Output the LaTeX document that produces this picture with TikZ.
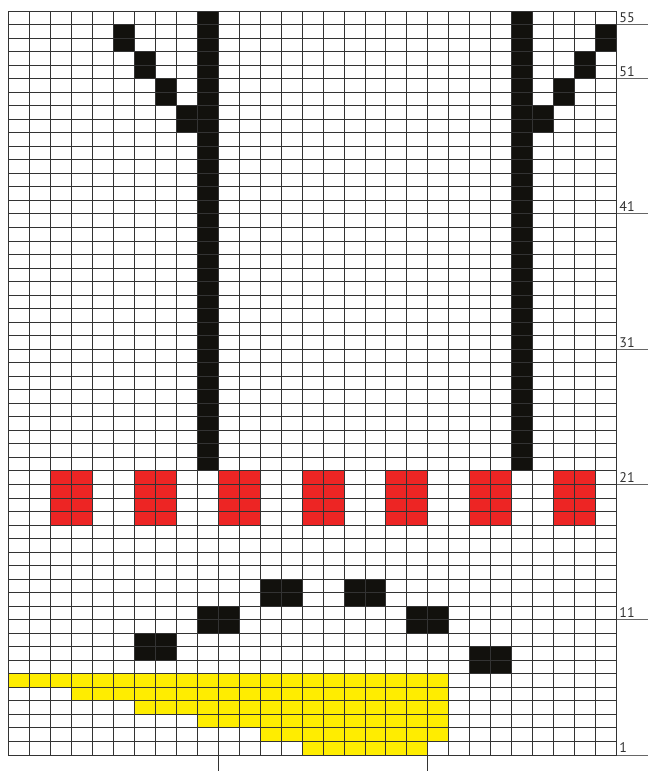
\documentclass[tikz,border=0pt]{standalone}
\usepackage{fontspec}
\setsansfont{PT Sans}
\begin{document}
\begin{tikzpicture}[x=20.98pt,y=13.527pt,font=\sffamily\fontsize{14}{16}\selectfont]
  \definecolor{inkblack}{RGB}{18,17,13}
  \definecolor{beadred}{RGB}{237,37,36}
  \definecolor{beadyellow}{RGB}{255,237,0}
  \tikzset{
    gridline/.style={line width=0.9pt,draw=black!80},
    rowmark/.style={line width=0.9pt,draw=black!60},
    rowlabel/.style={anchor=base west,inner sep=0pt,text=black!80}
  }
  \useasboundingbox (-8.3pt,-16pt) rectangle (640.7pt,755pt);

  %% yellow band at the foot, one rectangle per row
  \fill[beadyellow] (0,5) rectangle (21,6);
  \fill[beadyellow] (3,4) rectangle (21,5);
  \fill[beadyellow] (6,3) rectangle (21,4);
  \fill[beadyellow] (9,2) rectangle (21,3);
  \fill[beadyellow] (12,1) rectangle (21,2);
  \fill[beadyellow] (14,0) rectangle (20,1);

  %% the small black pairs above the band
  \fill[inkblack] (6,7) rectangle (8,9);
  \fill[inkblack] (9,9) rectangle (11,11);
  \fill[inkblack] (12,11) rectangle (14,13);
  \fill[inkblack] (16,11) rectangle (18,13);
  \fill[inkblack] (19,9) rectangle (21,11);
  \fill[inkblack] (22,6) rectangle (24,8);

  %% red row, rows 18--21
  \fill[beadred] (2,17) rectangle (4,21);
  \fill[beadred] (6,17) rectangle (8,21);
  \fill[beadred] (10,17) rectangle (12,21);
  \fill[beadred] (14,17) rectangle (16,21);
  \fill[beadred] (18,17) rectangle (20,21);
  \fill[beadred] (22,17) rectangle (24,21);
  \fill[beadred] (26,17) rectangle (28,21);

  %% two long bars with their slanted tops
  \fill[inkblack] (9,21) rectangle (10,55);
  \fill[inkblack] (5,52) rectangle (6,54);
  \fill[inkblack] (6,50) rectangle (7,52);
  \fill[inkblack] (7,48) rectangle (8,50);
  \fill[inkblack] (8,46) rectangle (9,48);
  \fill[inkblack] (24,21) rectangle (25,55);
  \fill[inkblack] (25,46) rectangle (26,48);
  \fill[inkblack] (26,48) rectangle (27,50);
  \fill[inkblack] (27,50) rectangle (28,52);
  \fill[inkblack] (28,52) rectangle (29,54);

  %% chart grid, 29 x 55
  \draw[gridline,step=1] (0,0) grid (29,55);
  \coordinate (t10) at (10,0);
  \coordinate (t20) at (20,0);
  \draw[gridline] (t10) -- ++(0,-16pt);
  \draw[gridline] (t20) -- ++(0,-16pt);

  %% row numbers at the right edge
  \draw[rowmark] (29,54) -- ++(31pt,0);
  \node[rowlabel] (r55) at ([shift={(2.5pt,2pt)}]29,54) {55};
  \draw[rowmark] (29,50) -- ++(31pt,0);
  \node[rowlabel] (r51) at ([shift={(2.5pt,2pt)}]29,50) {51};
  \draw[rowmark] (29,40) -- ++(31pt,0);
  \node[rowlabel] (r41) at ([shift={(2.5pt,2pt)}]29,40) {41};
  \draw[rowmark] (29,30) -- ++(31pt,0);
  \node[rowlabel] (r31) at ([shift={(2.5pt,2pt)}]29,30) {31};
  \draw[rowmark] (29,20) -- ++(31pt,0);
  \node[rowlabel] (r21) at ([shift={(2.5pt,2pt)}]29,20) {21};
  \draw[rowmark] (29,10) -- ++(31pt,0);
  \node[rowlabel] (r11) at ([shift={(2.5pt,2pt)}]29,10) {11};
  \draw[rowmark] (29,0) -- ++(31pt,0);
  \node[rowlabel] (r1) at ([shift={(2.5pt,2pt)}]29,0) {1};
\end{tikzpicture}
\end{document}
